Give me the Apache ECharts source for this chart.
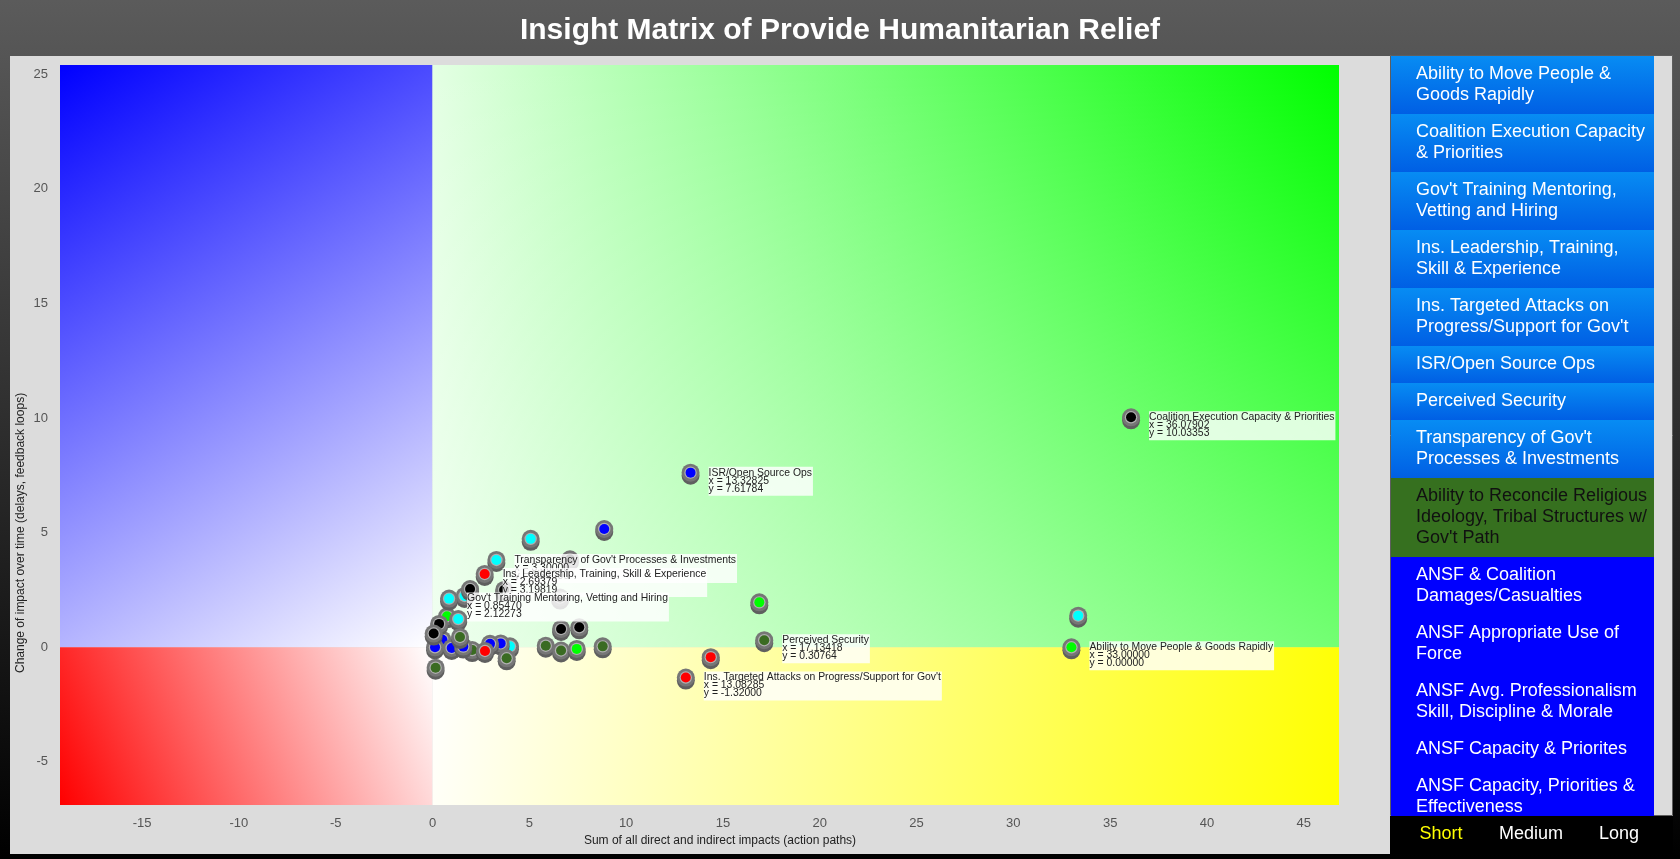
<!DOCTYPE html>
<html>
<head>
<meta charset="utf-8">
<script src="https://cdn.jsdelivr.net/npm/echarts@6/dist/echarts.min.js"></script>
<style>
html,body{margin:0;padding:0;width:1680px;height:859px;overflow:hidden;background:#000;}
#c{width:1680px;height:859px;}
</style>
</head>
<body>
<div id="c"></div>
<script>
// ---------- texts ----------
const TITLE = 'Insight Matrix of Provide Humanitarian Relief';
const X_TITLE = 'Sum of all direct and indirect impacts (action paths)';
const Y_TITLE = 'Change of impact over time (delays, feedback loops)';

// ---------- axis extents ----------
const X_MIN = -19.24, X_MAX = 46.82;
const Y_MIN = -6.88, Y_MAX = 25.4;

// ---------- points ----------
// colour keys: k black, b blue, c cyan, g green, d dark green, r red
const pointX = [33.35, 16.88, 14.37, 8.87, 5.07, 7.10, 6.59, 3.70, 6.64, 7.58, 5.85, 6.64, 7.45, 8.79, 4.00, 3.52, 2.97, 3.83, 2.05, 2.71, 0.51, 0.13, 0.99, 1.59, 0.16, 0.75, 1.66, 1.33, 1.94, 0.34, 0.06, 1.42,
  36.07902, 13.32825, 33.00000, 17.13418, 13.08285, 3.30000, 2.69379, 0.85470];
const pointY = [1.38, 1.96, -0.43, 5.16, 4.73, 3.84, 2.17, 2.50, 0.80, 0.87, 0.07, -0.14, -0.07, 0.04, 0.04, 0.17, 0.15, -0.48, -0.12, -0.16, 0.33, 0.00, -0.03, 0.03, -0.89, 1.35, 2.24, 1.23, 2.54, 1.02, 0.60, 0.45,
  10.03353, 7.61784, 0.00000, 0.30764, -1.32000, 3.81000, 3.19819, 2.12273];
const pointColor = ['c','g','r','b','c','k','k','k','k','k','d','d','g','d','c','b','b','d','d','r','b','b','b','b','d','g','c','c','k','k','k','d',
  'k','b','g','d','r','c','r','c'];
const pointName = ['','','','','','','','','','','','','','','','','','','','','','','','','','','','','','','','',
  'Coalition Execution Capacity & Priorities',
  'ISR/Open Source Ops',
  'Ability to Move People & Goods Rapidly',
  'Perceived Security',
  "Ins. Targeted Attacks on Progress/Support for Gov't",
  "Transparency of Gov't Processes & Investments",
  'Ins. Leadership, Training, Skill & Experience',
  "Gov't Training Mentoring, Vetting and Hiring"];

// ---------- legend ----------
const legendNames = [
  'Ability to Move People &\nGoods Rapidly',
  'Coalition Execution Capacity\n& Priorities',
  "Gov't Training Mentoring,\nVetting and Hiring",
  'Ins. Leadership, Training,\nSkill & Experience',
  "Ins. Targeted Attacks on\nProgress/Support for Gov't",
  'ISR/Open Source Ops',
  'Perceived Security',
  "Transparency of Gov't\nProcesses & Investments",
  "Ability to Reconcile Religious\nIdeology, Tribal Structures w/\nGov't Path",
  'ANSF & Coalition\nDamages/Casualties',
  'ANSF Appropriate Use of\nForce',
  'ANSF Avg. Professionalism\nSkill, Discipline & Morale',
  'ANSF Capacity & Priorites',
  'ANSF Capacity, Priorities &\nEffectiveness'
];
const legendGroup = [0,0,0,0,0,0,0,0,1,2,2,2,2,2];
const durations = ['Short', 'Medium', 'Long'];

// ---------- styles ----------
const FONT = '"Liberation Sans", Arial, Helvetica, sans-serif';
const MARK_COLORS = {k:'#000000', b:'#0000ff', c:'#00ffff', g:'#00ff00', d:'#3a6b22', r:'#ff0000'};
const LEGEND_FILLS = [
  {type:'linear', x:0, y:0, x2:0, y2:1, colorStops:[{offset:0, color:'#078cf3'},{offset:1, color:'#005fe4'}]},
  '#36701f',
  '#0000ff'
];
const LEGEND_TEXT = ['#ffffff', '#111111', '#ffffff'];

function grad(x, y, x2, y2, c0, c1) {
  return {type:'linear', x:x, y:y, x2:x2, y2:y2, colorStops:[{offset:0, color:c0},{offset:1, color:c1}]};
}

const chart = echarts.init(document.getElementById('c'), null, {renderer:'canvas'});

// panel + legend graphics
const graphics = [];
graphics.push({type:'rect', z:-100, shape:{x:10, y:56, width:1663, height:798}, style:{fill:'#dcdcdc'}});
graphics.push({type:'rect', z:-50, shape:{x:1390.5, y:55.5, width:282, height:760}, style:{fill:'#dcdcdc', stroke:'#5e5e5e', lineWidth:1}});
let yy = 56;
const LH = 21;
legendNames.forEach(function (name, i) {
  const lines = name.split('\n').length;
  const h = lines * LH + 16;
  const g = legendGroup[i];
  graphics.push({type:'rect', z:-40, shape:{x:1391, y:yy, width:263, height:h}, style:{fill:LEGEND_FILLS[g]}});
  graphics.push({type:'text', z:-39, x:1416, y:yy + 8, style:{text:name, fill:LEGEND_TEXT[g], font:'18px ' + FONT, lineHeight:LH, verticalAlign:'top', align:'left'}});
  yy += h;
});
// bottom duration bar
graphics.push({type:'rect', z:-30, shape:{x:1390, y:816, width:283, height:38}, style:{fill:'#000000'}});
const durX = [1441, 1531, 1619];
durations.forEach(function (d, i) {
  graphics.push({type:'text', z:-29, x:durX[i], y:834, style:{text:d, fill: i === 0 ? '#ffff00' : '#ffffff', font:'18px ' + FONT, align:'center', verticalAlign:'middle'}});
});
// axis titles
graphics.push({type:'text', x:720, y:841, style:{text:X_TITLE, fill:'#222', font:'12px ' + FONT, align:'center', verticalAlign:'middle'}});
graphics.push({type:'text', x:21, y:673, rotation:Math.PI / 2, style:{text:Y_TITLE, fill:'#222', font:'12px ' + FONT, align:'left', verticalAlign:'middle'}});

const option = {
  animation: false,
  backgroundColor: {type:'linear', x:0, y:0, x2:0, y2:1, colorStops:[{offset:0, color:'#5b5b5b'},{offset:1, color:'#000000'}]},
  title: {
    text: TITLE, left: 'center', top: 11,
    textStyle: {color:'#ffffff', fontSize:30, fontWeight:'bold', fontFamily: FONT}
  },
  grid: {left:60, right:341, top:65, bottom:54, containLabel:false},
  xAxis: {
    type:'value', min:X_MIN, max:X_MAX, splitNumber:13,
    axisLine:{show:false}, axisTick:{show:false}, splitLine:{show:false},
    axisLabel:{color:'#555', fontSize:13, fontFamily:FONT, margin:12, showMinLabel:false, showMaxLabel:false}
  },
  yAxis: {
    type:'value', min:Y_MIN, max:Y_MAX, splitNumber:6,
    axisLine:{show:false}, axisTick:{show:false}, splitLine:{show:false},
    axisLabel:{color:'#555', fontSize:13, fontFamily:FONT, margin:12, showMinLabel:false, showMaxLabel:false}
  },
  graphic: {elements: graphics},
  series: [
    {
      type:'scatter', z:1, data:[], silent:true,
      markArea: {
        silent:true,
        data: [
          [{coord:[X_MIN, Y_MAX], itemStyle:{color:grad(0,0,1,1,'#0000ff','#ffffff')}}, {coord:[0, 0]}],
          [{coord:[0, Y_MAX], itemStyle:{color:grad(0,0,1,0,'#e4ffe4','#00ff00')}}, {coord:[X_MAX, 0]}],
          [{coord:[0, Y_MAX], itemStyle:{color:grad(0,0,0,1,'rgba(255,255,255,0)','rgba(255,255,255,0.45)')}}, {coord:[X_MAX, 0]}],
          [{coord:[X_MIN, 0], itemStyle:{color:grad(0,1,1,0,'#ff0000','#ffffff')}}, {coord:[0, Y_MIN]}],
          [{coord:[0, 0], itemStyle:{color:grad(0,0,1,1,'#ffffff','#ffff00')}}, {coord:[X_MAX, Y_MIN]}]
        ]
      }
    },
    {
      type:'custom', z:3, silent:true,
      data: pointX.map(function (x, i) { return [x, pointY[i], i]; }),
      encode: {x:0, y:1},
      renderItem: function (params, api) {
        const i = api.value(2);
        const p = api.coord([api.value(0), api.value(1)]);
        const children = [
          {type:'circle', shape:{cx:p[0], cy:p[1] + 3, r:9}, style:{fill:'#5f5f5f'}},
          {type:'circle', shape:{cx:p[0], cy:p[1], r:9}, style:{fill:'#767676'}},
          {type:'circle', shape:{cx:p[0], cy:p[1], r:6.2}, style:{fill:'#b0b0b0'}},
          {type:'circle', shape:{cx:p[0], cy:p[1], r:5}, style:{fill:MARK_COLORS[pointColor[i]]}}
        ];
        if (pointName[i]) {
          children.push({
            type:'text', z2:100 + i,
            style:{
              text: pointName[i] + '\nx = ' + pointX[i].toFixed(5) + '\ny = ' + pointY[i].toFixed(5),
              x: p[0] + 18, y: p[1] - 6,
              fill:'#222', font:'10.4px ' + FONT, lineHeight:8,
              backgroundColor:'rgba(255,255,255,0.82)', padding:[2,1,3,0],
              align:'left', verticalAlign:'top'
            }
          });
        }
        return {type:'group', children: children};
      }
    }
  ]
};
chart.setOption(option);
</script>
</body>
</html>
